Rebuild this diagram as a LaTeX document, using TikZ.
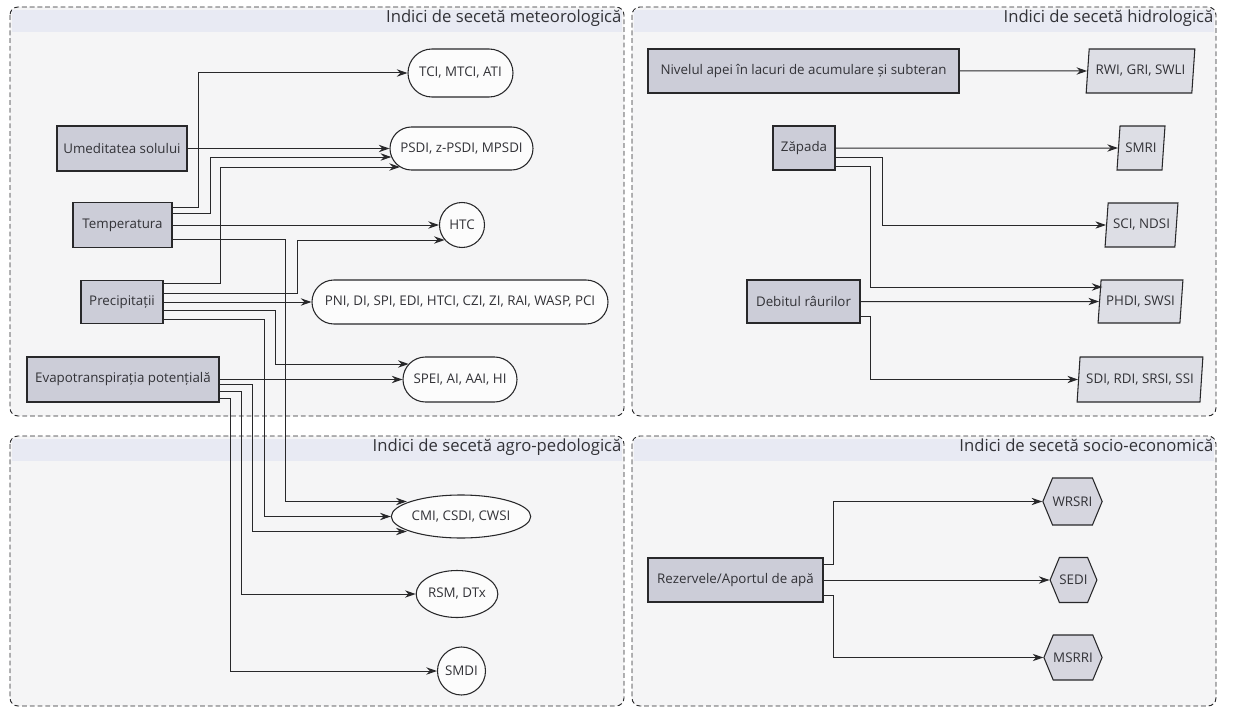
\documentclass[tikz,border=0pt]{standalone}
\usepackage{fontspec}
\setmainfont{Open Sans}
\usetikzlibrary{shapes.geometric,shapes.misc,shapes.symbols,arrows.meta,calc}
\definecolor{linec}{RGB}{40,40,42}
\definecolor{txtc}{RGB}{50,50,55}
\definecolor{srcfill}{RGB}{204,205,216}
\definecolor{parfill}{RGB}{221,222,229}
\definecolor{hexfill}{RGB}{214,214,223}
\definecolor{panelfill}{RGB}{245,245,246}
\definecolor{bandfill}{RGB}{232,234,243}
\definecolor{tgtfill}{RGB}{252,252,252}
\begin{document}
\begin{tikzpicture}[x=0.75pt,y=-0.75pt,
  every node/.style={text=txtc, font=\fontsize{10}{12}\selectfont, inner sep=0pt},
  sz/.style 2 args={minimum width=#1*0.75pt, minimum height=#2*0.75pt},
  panel/.style={draw=linec, line width=0.7pt, dash pattern=on 3.6pt off 2.2pt, rounded corners=6pt, fill=panelfill},
  band/.style={fill=bandfill, draw=none},
  paneltitle/.style={anchor=north east, font=\fontsize{12.5}{14}\selectfont, inner sep=1pt},
  srcbox/.style={draw=linec, line width=0.8pt, fill=srcfill, rectangle},
  stadium/.style={draw=linec, line width=0.8pt, fill=tgtfill, rounded rectangle},
  circ/.style={draw=linec, line width=0.8pt, fill=tgtfill, circle},
  ell/.style={draw=linec, line width=0.8pt, fill=tgtfill, ellipse},
  para/.style={draw=linec, line width=0.8pt, fill=parfill, trapezium, trapezium left angle=77, trapezium right angle=103, trapezium stretches=true},
  hexa/.style={draw=linec, line width=0.8pt, fill=hexfill, signal, signal to=west and east, signal pointer angle=135},
  arr/.style={draw=linec, line width=0.75pt, -{Stealth[length=8pt,width=5.5pt]}},
]
\useasboundingbox (0,0) rectangle (1235,710);
% panels
\path[panel] (10,7) rectangle (624,416);
\path[panel] (632,7) rectangle (1216,416);
\path[panel] (10,436) rectangle (624,706);
\path[panel] (632,436) rectangle (1216,706);
\path[band] (12,10) rectangle (622,32);
\path[band] (634,10) rectangle (1214,32);
\path[band] (12,439) rectangle (622,461);
\path[band] (634,439) rectangle (1214,461);
\node[paneltitle] (t1) at (623,8) {Indici de secetă meteorologică};
\node[paneltitle] (t2) at (1215,8) {Indici de secetă hidrologică};
\node[paneltitle] (t3) at (623,437) {Indici de secetă agro-pedologică};
\node[paneltitle] (t4) at (1215,437) {Indici de secetă socio-economică};

% sources (meteo)
\node[srcbox, sz={130}{45}] (umid) at (122,148.5) {Umeditatea solului};
\node[srcbox, sz={99}{45}] (temp) at (122.5,225) {Temperatura};
\node[srcbox, sz={82}{43}] (prec) at (122,302) {Precipitații};
\node[srcbox, sz={192}{45}] (evap) at (123,379.5) {Evapotranspirația potențială};
% targets (meteo)
\node[stadium, sz={105}{48}] (tci) at (460.5,73) {TCI, MTCI, ATI};
\node[stadium, sz={143}{43}] (psdi) at (461.5,148.5) {PSDI, z-PSDI, MPSDI};
\node[circ, minimum size=45*0.75pt] (htc) at (462,225) {HTC};
\node[stadium, sz={296}{44}] (pni) at (460,302) {PNI, DI, SPI, EDI, HTCI, CZI, ZI, RAI, WASP, PCI};
\node[stadium, sz={114}{45}] (spei) at (460,379.5) {SPEI, AI, AAI, HI};
% targets (agro)
\node[ell, sz={118}{43}] (cmi) at (461,516.5) {CMI, CSDI, CWSI};
\node[ell, sz={67}{47}] (rsm) at (457,594) {RSM, DTx};
\node[circ, minimum size=48*0.75pt] (smdi) at (461.5,671) {SMDI};

% hydro
\node[srcbox, sz={311}{44}] (niv) at (803.5,71) {Nivelul apei în lacuri de acumulare și subteran};
\node[srcbox, sz={62}{44}] (zap) at (804,148) {Zăpada};
\node[srcbox, sz={113}{43}] (deb) at (803.5,301.5) {Debitul râurilor};
\node[para, sz={109}{44}] (rwi) at (1140.5,71) {RWI, GRI, SWLI};
\node[para, sz={48}{44}] (smri) at (1141,148) {SMRI};
\node[para, sz={73}{44}] (sci) at (1141.5,225) {SCI, NDSI};
\node[para, sz={85}{43}] (phdi) at (1140.5,301.5) {PHDI, SWSI};
\node[para, sz={126}{45}] (sdi) at (1140,379.5) {SDI, RDI, SRSI, SSI};

% socio-economic
\node[srcbox, sz={175}{44}] (rez) at (735.5,580) {Rezervele/Aportul de apă};
\node[hexa, sz={55}{47}] (wrsri) at (1072.5,501.5) {WRSRI};
\node[hexa, sz={43}{45}] (sedi) at (1073.5,580) {SEDI};
\node[hexa, sz={54}{45}] (msrri) at (1073,657.5) {MSRRI};

% connectors meteo
\draw[arr] (umid.east) -- (psdi.west);
\draw[arr] (temp.east |- 0,207) -- (198,207) |- (tci.west);
\draw[arr] (temp.east |- 0,213) -- (210,213) |- ($(psdi.west)+(1.8,8.5)$);
\draw[arr] (prec.east |- 0,283) -- (220,283) |- ($(psdi.west)+(10.5,18.5)$);
\draw[arr] (temp.east) -- (htc.west);
\draw[arr] (temp.east |- 0,239) -- (285,239) |- ($(cmi.west)+(16,-15)$);
\draw[arr] (prec.east |- 0,293) -- (297,293) |- ($(htc.west)+(5.7,15)$);
\draw[arr] (prec.east) -- (pni.west);
\draw[arr] (prec.east |- 0,310) -- (275,310) |- ($(spei.west)+(6.2,-15.5)$);
\draw[arr] (prec.east |- 0,319) -- (264,319) |- (cmi.west);
\draw[arr] (evap.east) -- (spei.west);
\draw[arr] (evap.east |- 0,384) -- (252,384) |- ($(cmi.west)+(16,15)$);
\draw[arr] (evap.east |- 0,391) -- (241,391) |- (rsm.west);
\draw[arr] (evap.east |- 0,398) -- (230,398) |- (smdi.west);

% connectors hydro
\draw[arr] (niv.east) -- (rwi.west);
\draw[arr] (zap.east) -- (smri.west);
\draw[arr] (zap.east |- 0,157) -- (882,157) |- (sci.west);
\draw[arr] (zap.east |- 0,166) -- (870,166) |- ($(phdi.west)+(3.4,-14.5)$);
\draw[arr] (deb.east) -- (phdi.west);
\draw[arr] (deb.east |- 0,316) -- (870,316) |- (sdi.west);

% connectors socio-economic
\draw[arr] (rez.east |- 0,564) -- (833,564) |- (wrsri.west);
\draw[arr] (rez.east) -- (sedi.west);
\draw[arr] (rez.east |- 0,595) -- (833,595) |- (msrri.west);
\end{tikzpicture}
\end{document}
